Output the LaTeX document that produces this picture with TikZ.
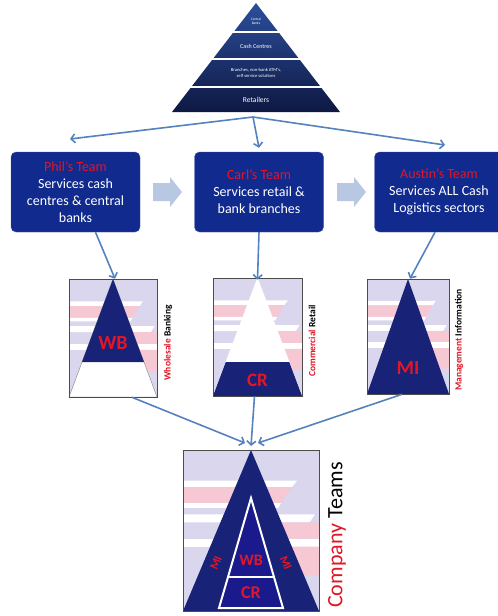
\documentclass[tikz,border=0pt]{standalone}
\usepackage{fontspec}
\setmainfont{Carlito}
\usetikzlibrary{arrows.meta}

\definecolor{teamblue}{RGB}{16,42,142}
\definecolor{teamred}{RGB}{226,22,38}
\definecolor{flowblue}{RGB}{84,130,190}
\definecolor{paleblue}{RGB}{184,200,226}
\definecolor{navy}{RGB}{24,34,118}
\definecolor{innernavy}{RGB}{26,26,140}
\definecolor{lavender}{RGB}{218,214,238}
\definecolor{pinkband}{RGB}{246,200,212}
\definecolor{pyrtop}{RGB}{44,78,156}
\definecolor{pyrbottom}{RGB}{14,24,66}

\begin{document}
\begin{tikzpicture}[x=1pt, y=-1pt,
    team/.style = {draw=teamblue!80!white, fill=teamblue, rounded corners=5pt, minimum width=129pt, minimum height=80pt, inner sep=0pt, align=center, text=white, font=\fontsize{14}{17}\selectfont},
    flow/.style = {draw=flowblue, line width=1.6pt, -{Straight Barb[length=4pt, width=9pt]}},
    icon/.style = {draw=gray!60!black, line width=0.6pt, inner sep=0pt},
    pyrtext/.style = {text=white, align=center, inner sep=0pt},
    letters/.style = {text=teamred, font=\fontsize{20}{20}\selectfont\bfseries, inner sep=0pt},
    sidelabel/.style = {rotate=90, inner sep=0pt, font=\fontsize{9.5}{10}\selectfont\bfseries}]

    \useasboundingbox (0,0) rectangle (498,616);

    \shade[top color=pyrtop, bottom color=pyrbottom] (256,3) -- (340,112) -- (172,112) -- cycle;
    \draw[white, line width=2pt] (160,32) -- (352,32);
    \draw[white, line width=2pt] (160,59) -- (352,59);
    \draw[white, line width=2pt] (160,87) -- (352,87);
    \node[pyrtext, font=\fontsize{3.5}{4}\selectfont] (central) at (256,21) {Central\\Banks};
    \node[pyrtext, font=\fontsize{6}{7}\selectfont] (cashc) at (256,46) {Cash Centres};
    \node[pyrtext, font=\fontsize{4.6}{5.5}\selectfont] (branches) at (256,73) {Branches, non-bank ATM's,\\self service solutions};
    \node[pyrtext, font=\fontsize{7.5}{8}\selectfont] (retailers) at (256,100) {Retailers};
    \coordinate (pyr) at (253,117);

    \node[team] (phil) at (75.5,192) {\textcolor{teamred}{Phil's Team}\\Services cash\\centres \& central\\banks};
    \node[team] (carl) at (259,192) {\textcolor{teamred}{Carl's Team}\\Services retail \&\\bank branches};
    \node[team] (austin) at (439,192) {\textcolor{teamred}{Austin's Team}\\Services ALL Cash\\Logistics sectors};

    \fill[paleblue] (153,183) -- (170,183) -- (170,177) -- (182,192) -- (170,207) -- (170,201) -- (153,201) -- cycle;
    \fill[paleblue] (337,183) -- (354,183) -- (354,177) -- (366,192) -- (354,207) -- (354,201) -- (337,201) -- cycle;

    \coordinate (philin) at (70,139);
    \coordinate (austinin) at (445,145);
    \draw[flow] (pyr) -- (philin);
    \draw[flow] (pyr) -- ([yshift=4]carl.north);
    \draw[flow] (pyr) -- (austinin);

    \foreach \x/\y/\w/\h in {69/279/88/118, 213/278/89/118, 367/279/82/115, 183/450/136/161} {
        \begin{scope}[shift={(\x,\y)}, xscale=\w, yscale=\h]
            \fill[lavender] (0,0) rectangle (1,1);
            \fill[white] (0,0.19) -- (0.84,0.19) -- (0.80,0.23) -- (0,0.23) -- cycle;
            \fill[pinkband] (0,0.23) -- (0.80,0.23) -- (0.72,0.33) -- (0,0.33) -- cycle;
            \fill[white] (0,0.33) -- (0.72,0.33) -- (0.70,0.36) -- (0,0.36) -- cycle;
            \fill[white] (0,0.40) -- (0.97,0.40) -- (0.93,0.45) -- (0,0.45) -- cycle;
            \fill[pinkband] (0.66,0.45) -- (1,0.45) -- (1,0.55) -- (0.60,0.55) -- cycle;
            \fill[white] (0,0.55) -- (1,0.55) -- (1,0.60) -- (0,0.60) -- cycle;
            \fill[pinkband] (0.80,0.60) -- (1,0.60) -- (1,0.78) -- (0.86,0.78) -- cycle;
        \end{scope}
    }

    \filldraw[fill=white, draw=gray] (113,279) -- (157,397) -- (69,397) -- cycle;
    \fill[navy] (113,279) -- (144,362) -- (82,362) -- cycle;
    \filldraw[fill=white, draw=white] (257.5,278) -- (302,396) -- (213,396) -- cycle;
    \fill[navy] (225.8,362) -- (289.2,362) -- (302,396) -- (213,396) -- cycle;
    \fill[navy] (408,279) -- (449,394) -- (367,394) -- cycle;
    \fill[navy] (251,450) -- (319,611) -- (183,611) -- cycle;
    \filldraw[fill=innernavy, draw=white, line width=2pt] (251,498) -- (283,608) -- (219,608) -- cycle;
    \draw[white, line width=2pt] (228,577) -- (274,577);

    \node[icon, minimum width=88pt, minimum height=118pt] (wbicon) at (113,338) {};
    \node[icon, minimum width=89pt, minimum height=118pt] (cricon) at (257.5,337) {};
    \node[icon, minimum width=82pt, minimum height=115pt] (miicon) at (408,336.5) {};
    \node[icon, minimum width=136pt, minimum height=161pt] (bigicon) at (251,530.5) {};

    \node[letters] (wb) at (113,343) {WB};
    \node[letters, font=\fontsize{19}{19}\selectfont\bfseries] (cr) at (257.5,380) {CR};
    \node[letters] (mi) at (408,368) {MI};
    \node[letters, font=\fontsize{16}{16}\selectfont\bfseries] (bigwb) at (251,560) {WB};
    \node[letters, font=\fontsize{18}{18}\selectfont\bfseries] (bigcr) at (251,593) {CR};
    \node[letters, font=\fontsize{12}{12}\selectfont\bfseries, rotate=67] (leftmi) at (216,563) {MI};
    \node[letters, font=\fontsize{12}{12}\selectfont\bfseries, rotate=-67] (rightmi) at (286,563) {MI};

    \node[sidelabel] (wbside) at (168,343) {\textcolor{teamred}{Wholesale} Banking};
    \node[sidelabel] (crside) at (312,341) {\textcolor{teamred}{Commercial} Retail};
    \node[sidelabel] (miside) at (459,340) {\textcolor{teamred}{Management} Information};
    \node[sidelabel, font=\fontsize{22}{22}\selectfont] (teams) at (337,535) {\textcolor{teamred}{Company} Teams};

    \draw[flow] ([xshift=20]phil.south) -- ([xshift=2]wbicon.north);
    \draw[flow] (carl.south) -- ([yshift=-2]cricon.north);
    \draw[flow] ([xshift=-4]austin.south) -- ([xshift=2]miicon.north);

    \coordinate (bigin) at (251,443);
    \draw[flow] ([xshift=19]wbicon.south) -- ([xshift=-6]bigin);
    \draw[flow] ([xshift=-3]cricon.south) -- ([yshift=-3]bigin);
    \draw[flow] ([xshift=-6]miicon.south) -- ([xshift=7]bigin);

\end{tikzpicture}
\end{document}
